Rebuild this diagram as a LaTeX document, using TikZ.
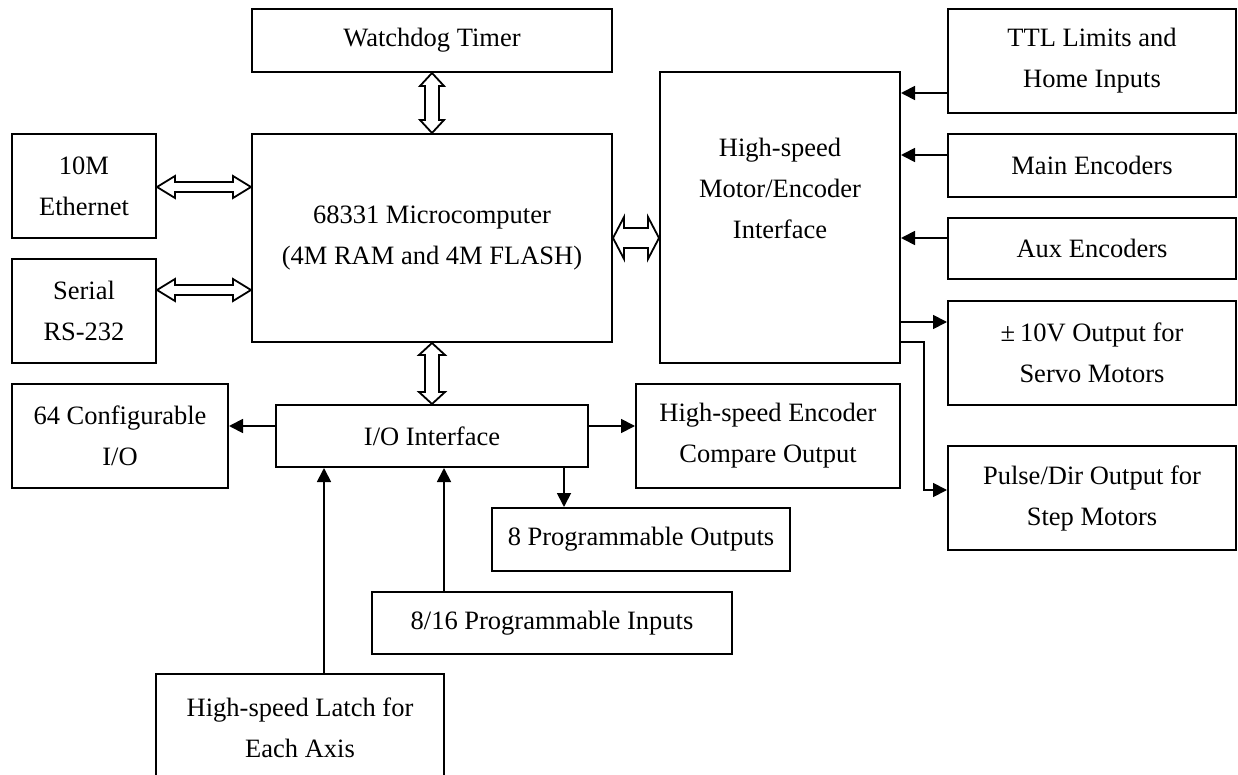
\documentclass[tikz,border=0pt]{standalone}
\usepackage{fontspec}
\setmainfont{Liberation Serif}
\usetikzlibrary{arrows.meta,calc}
\newcommand\bx[6]{\node[box, minimum width={#4-#2}, minimum height={#5-#3}] (#1) at ({(#2+#4)/2},{(#3+#5)/2}) {#6};}
\newcommand\HArrow[5]{\draw[hollow] let \p1=(#1), \p2=(#2), \n1={\x2-\x1-2*#5} in (\p1) -- ++(#5pt,#3pt) -- ++(0pt,-#4pt) -- ++(\n1,0pt) -- ++(0pt,#4pt) -- (\p2) -- ++(-#5pt,-#3pt) -- ++(0pt,#4pt) -- ++(-\n1,0pt) -- ++(0pt,-#4pt) -- cycle;}
\newcommand\VArrow[5]{\draw[hollow] let \p1=(#1), \p2=(#2), \n1={\y1-\y2-2*#5} in (\p1) -- ++(#3pt,-#5pt) -- ++(-#4pt,0pt) -- ++(0pt,-\n1) -- ++(#4pt,0pt) -- (\p2) -- ++(-#3pt,#5pt) -- ++(#4pt,0pt) -- ++(0pt,\n1) -- ++(-#4pt,0pt) -- cycle;}
\begin{document}
\begin{tikzpicture}[x=1pt,y=-1pt,
  box/.style={draw, line width=2pt, inner sep=0pt, align=center, font=\fontsize{26.5}{41}\selectfont},
  txt/.style={inner sep=0pt, align=center, font=\fontsize{26.5}{41}\selectfont},
  conn/.style={line width=1.8pt, -{Triangle[length=14pt,width=14pt]}},
  hollow/.style={draw, line width=1.8pt, line join=miter}]
\useasboundingbox (0,0) rectangle (1238,775);
\clip (0,0) rectangle (1238,775);
% boxes
\bx{wd}{252}{9}{612}{72}{Watchdog Timer}
\bx{micro}{252}{134}{612}{342}{68331 Microcomputer\\(4M RAM and 4M FLASH)}
\bx{eth}{12}{134}{156}{238}{10M\\Ethernet}
\bx{ser}{12}{259}{156}{363}{Serial\\RS-232}
\bx{cfg}{12}{384}{228}{488}{64 Configurable\\I/O}
\bx{io}{276}{405}{588}{467}{I/O Interface}
\bx{cmp}{636}{384}{900}{488}{High-speed Encoder\\Compare Output}
\bx{outs}{492}{508}{790}{571}{8 Programmable Outputs}
\bx{ins}{372}{592}{732}{654}{8/16 Programmable Inputs}
\bx{latch}{156}{674}{444}{781}{High-speed Latch for\\Each Axis}
\bx{mot}{660}{72}{900}{363}{}
\node[txt] (motT) at (780,188) {High-speed\\Motor/Encoder\\Interface};
\bx{ttl}{948}{9}{1236}{113}{TTL Limits and\\Home Inputs}
\bx{main}{948}{134}{1236}{197}{Main Encoders}
\bx{aux}{948}{218}{1236}{279}{Aux Encoders}
\bx{pm}{948}{301}{1236}{405}{±\hspace{5pt}10V Output for\\Servo Motors}
\bx{pulse}{948}{446}{1236}{550}{Pulse/Dir Output for\\Step Motors}
% helper coordinates
\coordinate (ya) at (0,187);
\coordinate (yb) at (0,290);
\coordinate (yc) at (0,238);
\coordinate (y426) at (0,426);
\coordinate (x564) at (564,0);
\coordinate (x324) at (324,0);
\coordinate (x444) at (444,0);
\coordinate (y93) at (0,93);
\coordinate (y155) at (0,155);
\coordinate (y238) at (0,238);
\coordinate (y322) at (0,322);
\coordinate (y342) at (0,342);
\coordinate (y490) at (0,490);
\coordinate (k1) at (924,342);
% hollow double arrows
\HArrow{eth.east |- ya}{micro.west |- ya}{11}{6}{18}
\HArrow{ser.east |- yb}{micro.west |- yb}{11}{6}{18}
\HArrow{micro.east |- yc}{mot.west |- yc}{21}{11}{11}
\VArrow{wd.south}{micro.north}{12}{5}{13}
\VArrow{micro.south}{io.north}{13}{6}{12}
% solid connectors
\draw[conn] (io.west |- y426) -- (cfg.east |- y426);
\draw[conn] (io.east |- y426) -- (cmp.west |- y426);
\draw[conn] (io.south -| x564) -- (outs.north -| x564);
\draw[conn] (latch.north -| x324) -- (io.south -| x324);
\draw[conn] (ins.north -| x444) -- (io.south -| x444);
\draw[conn] (ttl.west |- y93) -- (mot.east |- y93);
\draw[conn] (main.west |- y155) -- (mot.east |- y155);
\draw[conn] (aux.west |- y238) -- (mot.east |- y238);
\draw[conn] (mot.east |- y322) -- (pm.west |- y322);
\draw[conn] (mot.east |- y342) -- (k1) |- (pulse.west |- y490);
\end{tikzpicture}
\end{document}
